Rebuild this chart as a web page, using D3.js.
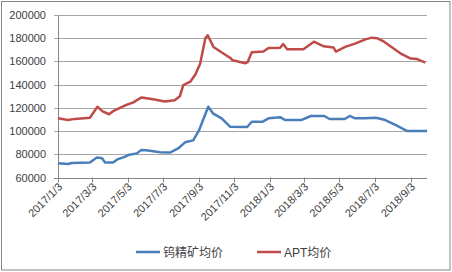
<!DOCTYPE html>
<html>
<head>
<meta charset="utf-8">
<script src="https://cdn.jsdelivr.net/npm/d3@7"></script>
<style>
  body { margin: 0; background: #fff; }
  text { font-family: "Liberation Sans", "Noto Sans CJK SC", sans-serif; fill: #404040; }
</style>
</head>
<body>
<div id="chart"></div>
<script>
// chart size
var width = 452;
var height = 272;

// series data (date, value)
var oreDates = ["2017-01-03","2017-01-20","2017-01-27","2017-02-27","2017-03-11","2017-03-20","2017-03-25","2017-04-08","2017-04-15","2017-04-28","2017-05-04","2017-05-19","2017-05-26","2017-06-04","2017-06-28","2017-07-15","2017-07-29","2017-08-10","2017-08-24","2017-09-03","2017-09-10","2017-09-19","2017-09-27","2017-10-12","2017-10-27","2017-11-25","2017-12-03","2017-12-21","2018-01-01","2018-01-21","2018-01-29","2018-02-26","2018-03-15","2018-04-07","2018-04-16","2018-05-12","2018-05-21","2018-05-30","2018-06-16","2018-07-03","2018-07-09","2018-07-21","2018-08-10","2018-08-28","2018-10-01"];
var oreValues = [72200,71600,72500,73000,77300,76500,73000,73000,75600,77800,79300,80800,83600,83500,81700,81500,85000,90300,92000,100500,109500,121000,115300,111000,103700,103500,108000,108000,111000,112000,109500,109500,113000,113000,110400,110400,113000,111000,111000,111500,111000,109500,104600,100000,100000];

var aptDates = ["2017-01-03","2017-01-20","2017-02-01","2017-02-27","2017-03-12","2017-03-21","2017-04-01","2017-04-09","2017-04-28","2017-05-12","2017-05-27","2017-06-16","2017-07-06","2017-07-23","2017-08-01","2017-08-07","2017-08-19","2017-08-28","2017-08-31","2017-09-05","2017-09-14","2017-09-18","2017-09-28","2017-10-13","2017-10-27","2017-10-31","2017-11-22","2017-11-26","2017-12-03","2017-12-23","2018-01-01","2018-01-21","2018-01-26","2018-02-02","2018-03-02","2018-03-20","2018-04-06","2018-04-23","2018-04-27","2018-05-13","2018-05-31","2018-06-17","2018-06-28","2018-07-07","2018-07-19","2018-08-16","2018-09-03","2018-09-14","2018-09-28"];
var aptValues = [111000,109500,110500,111500,121000,117000,114500,117500,122000,124500,129000,127500,125500,126500,130000,139500,142500,149000,152500,158000,180000,182500,172500,167500,163000,161000,158500,159500,168000,168500,171500,171800,175000,170500,170500,177000,173000,172000,168500,172500,175500,179000,180500,180000,177000,167000,162500,162000,159000];

// axis labels
var xTickLabels = ["2017/1/3","2017/3/3","2017/5/3","2017/7/3","2017/9/3","2017/11/3","2018/1/3","2018/3/3","2018/5/3","2018/7/3","2018/9/3"];
var yTicks = [60000,80000,100000,120000,140000,160000,180000,200000];
var seriesNames = ["钨精矿均价", "APT均价"];

var parse = d3.timeParse("%Y-%m-%d");
var parseTick = d3.timeParse("%Y/%m/%d");

var plot = { left: 58, right: 427, top: 15, bottom: 177.5 };

var svg = d3.select("#chart").append("svg")
  .attr("width", width)
  .attr("height", height);

// outer chart border
svg.append("rect")
  .attr("x", 1.5).attr("y", 1.5)
  .attr("width", 448.5).attr("height", 268.5)
  .attr("fill", "#fff")
  .attr("stroke", "#868686")
  .attr("stroke-width", 1);

var x = d3.scaleTime()
  .domain([parse("2017-01-03"), parse("2018-10-01")])
  .range([plot.left, plot.right]);

var y = d3.scaleLinear()
  .domain([60000, 200000])
  .range([plot.bottom, plot.top]);

// gridlines
svg.append("g")
  .selectAll("line")
  .data(yTicks)
  .enter()
  .append("line")
  .attr("x1", plot.left - 4)
  .attr("x2", plot.right)
  .attr("y1", function(d) { return Math.round(y(d)) + 0.5; })
  .attr("y2", function(d) { return Math.round(y(d)) + 0.5; })
  .attr("stroke", function(d) { return d === 60000 ? "#868686" : "#a6a6a6"; })
  .attr("stroke-width", 1);

// y labels
svg.append("g")
  .selectAll("text")
  .data(yTicks)
  .enter()
  .append("text")
  .attr("x", 46)
  .attr("y", function(d) { return y(d) + 4; })
  .attr("text-anchor", "end")
  .style("font-size", "11px")
  .text(function(d) { return d; });

// left axis line
svg.append("line")
  .attr("x1", plot.left + 0.5).attr("x2", plot.left + 0.5)
  .attr("y1", plot.top).attr("y2", plot.bottom + 0.5)
  .attr("stroke", "#868686");

// x ticks and labels
var tickDates = xTickLabels.map(function(s) { return parseTick(s); });
var xg = svg.append("g");
xg.selectAll("line")
  .data(tickDates)
  .enter()
  .append("line")
  .attr("x1", function(d) { return Math.round(x(d)) + 0.5; })
  .attr("x2", function(d) { return Math.round(x(d)) + 0.5; })
  .attr("y1", plot.bottom)
  .attr("y2", plot.bottom + 5)
  .attr("stroke", "#868686");

xg.selectAll("text")
  .data(tickDates)
  .enter()
  .append("text")
  .attr("text-anchor", "end")
  .style("font-size", "11px")
  .attr("transform", function(d) {
    return "translate(" + (x(d) + 5) + "," + (plot.bottom + 10) + ") rotate(-45)";
  })
  .text(function(d, i) { return xTickLabels[i]; });

// lines
var line = d3.line()
  .x(function(d) { return x(d[0]); })
  .y(function(d) { return y(d[1]); });

var oreData = oreDates.map(function(s, i) { return [parse(s), oreValues[i]]; });
var aptData = aptDates.map(function(s, i) { return [parse(s), aptValues[i]]; });

svg.append("path")
  .datum(oreData)
  .attr("d", line)
  .attr("fill", "none")
  .attr("stroke", "#4a7ebb")
  .attr("stroke-width", 2.5)
  .attr("stroke-linejoin", "round");

svg.append("path")
  .datum(aptData)
  .attr("d", line)
  .attr("fill", "none")
  .attr("stroke", "#be4b48")
  .attr("stroke-width", 2.5)
  .attr("stroke-linejoin", "round");

// legend
var legend = [
  { name: seriesNames[0], color: "#4a7ebb", x: 136 },
  { name: seriesNames[1], color: "#be4b48", x: 257 }
];
var lg = svg.append("g").selectAll("g")
  .data(legend)
  .enter()
  .append("g")
  .attr("transform", function(d) { return "translate(" + d.x + ",252)"; });
lg.append("line")
  .attr("x1", 0).attr("x2", 24)
  .attr("y1", 0).attr("y2", 0)
  .attr("stroke", function(d) { return d.color; })
  .attr("stroke-width", 2.5);
lg.append("text")
  .attr("x", 27)
  .attr("y", 4.5)
  .style("font-size", "12px")
  .text(function(d) { return d.name; });
</script>
</body>
</html>
